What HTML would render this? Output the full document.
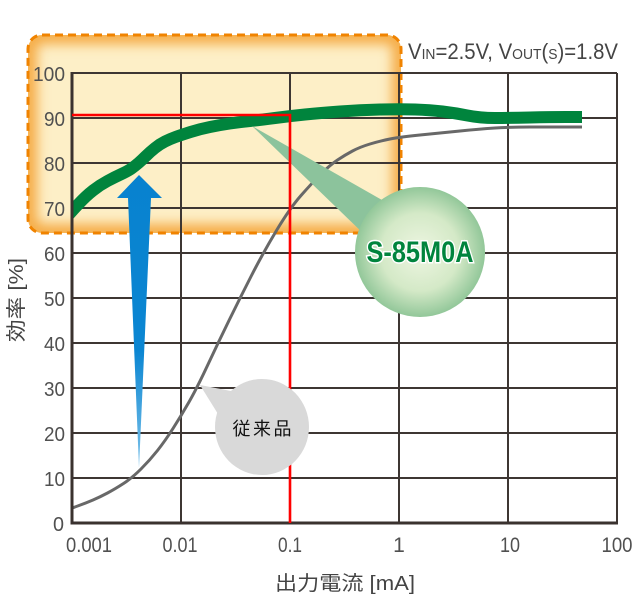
<!DOCTYPE html>
<html><head><meta charset="utf-8"><style>
html,body{margin:0;padding:0;background:#fff;width:643px;height:609px;overflow:hidden}
svg{display:block}
text{font-family:"Liberation Sans","Noto Sans CJK JP",sans-serif}
</style></head><body>
<svg width="643" height="609" viewBox="0 0 643 609" xmlns="http://www.w3.org/2000/svg">
<defs>
<clipPath id="bc"><rect x="28" y="35" width="373" height="198" rx="14" ry="14"/></clipPath>
<clipPath id="pc"><rect x="72" y="60" width="560" height="470"/></clipPath>
<filter id="bl" x="-20%" y="-20%" width="140%" height="140%"><feGaussianBlur stdDeviation="6"/></filter>
<linearGradient id="ag" x1="0" y1="0" x2="0" y2="1">
<stop offset="0" stop-color="#0882cf"/><stop offset="0.6" stop-color="#0b86d2"/><stop offset="1" stop-color="#7cc2ea"/>
</linearGradient>
<radialGradient id="cg" cx="0.5" cy="0.5" r="0.5">
<stop offset="0" stop-color="#eef6e2"/><stop offset="0.6" stop-color="#d4e9c7"/><stop offset="1" stop-color="#92c799"/>
</radialGradient>
</defs>

<!-- orange highlight box -->
<rect x="28" y="35" width="373" height="198" rx="14" ry="14" fill="#fdefc7"/>
<g clip-path="url(#bc)">
<rect x="28" y="35" width="373" height="198" rx="14" ry="14" fill="none" stroke="#f5ab45" stroke-width="18" filter="url(#bl)"/>
</g>
<rect x="28" y="35" width="373" height="198" rx="14" ry="14" fill="none" stroke="#f08300" stroke-width="3" stroke-dasharray="8 5"/>

<!-- grid -->
<g stroke="#3d3633" stroke-width="2">
<line x1="72" y1="118" x2="617" y2="118"/>
<line x1="72" y1="163" x2="617" y2="163"/>
<line x1="72" y1="208" x2="617" y2="208"/>
<line x1="72" y1="253" x2="617" y2="253"/>
<line x1="72" y1="298" x2="617" y2="298"/>
<line x1="72" y1="343" x2="617" y2="343"/>
<line x1="72" y1="388" x2="617" y2="388"/>
<line x1="72" y1="433" x2="617" y2="433"/>
<line x1="72" y1="478" x2="617" y2="478"/>
<line x1="181" y1="73" x2="181" y2="523"/>
<line x1="290" y1="73" x2="290" y2="523"/>
<line x1="399" y1="73" x2="399" y2="523"/>
<line x1="508" y1="73" x2="508" y2="523"/>
<line x1="72" y1="73" x2="617" y2="73"/>
<line x1="617" y1="73" x2="617" y2="523"/>
</g>

<!-- blue arrow -->
<polygon points="139,175 162,198 151,198 139,468 128,198 117,198" fill="url(#ag)"/>

<g clip-path="url(#pc)">
<!-- grey conventional curve -->
<polyline id="grey" fill="none" stroke="#686868" stroke-width="3" stroke-linejoin="round" points="68,510 72,508 86,503 100,497 115,489 132,478 150,460 165,441 181,416 197,388 218,343 240,298 263,253 290,208 312,183 330,165 345,155 360,147 380,141 400,137 440,133 480,129 510,127 550,127 582,127"/>
<!-- green S-85M0A curve -->
<polyline id="green" fill="none" stroke="#00843d" stroke-width="12" stroke-linejoin="round" points="66,218 72,211 86,196 100,185 115,177 128,171 135,166 142,160 150,152 160,144 170,139 181,135 200,129 220,125 240,122 260,120 290,116 320,113 360,110 400,109 430,110 455,113 480,118 510,118 550,117 582,117"/>
</g>

<g stroke="#3a322f" stroke-width="3">
<line x1="72" y1="72" x2="72" y2="524.5"/>
<line x1="70.5" y1="523" x2="618" y2="523"/>
</g>

<!-- light green pointer -->
<polygon points="252,126 382,200 368,238" fill="#8cc39c"/>

<!-- red reference lines -->
<polyline points="72,115 290,115 290,523" stroke="#ff0000" stroke-width="2.6" fill="none"/>

<!-- S-85M0A circle -->
<circle cx="420" cy="252" r="65" fill="url(#cg)"/>
<text x="420" y="262" text-anchor="middle" font-size="30" font-weight="bold" fill="#00843d" stroke="#ffffff" stroke-width="3" paint-order="stroke" textLength="107" lengthAdjust="spacingAndGlyphs">S-85M0A</text>

<!-- grey bubble -->
<polygon points="200,385 236,392 218,414" fill="#d9d9d9"/>
<ellipse cx="262" cy="427" rx="47" ry="48" fill="#d9d9d9"/>
<text x="262" y="435" text-anchor="middle" font-size="18" fill="#111" textLength="59" lengthAdjust="spacing" style="font-family:'Noto Sans CJK JP',sans-serif">従来品</text>

<!-- title -->
<text x="408" y="59" font-size="22" fill="#444" textLength="210" lengthAdjust="spacingAndGlyphs">V<tspan font-size="15">IN</tspan>=2.5V, V<tspan font-size="15">OUT</tspan>(<tspan font-size="15">S</tspan>)=1.8V</text>

<!-- y labels -->
<g font-size="20" fill="#505050" text-anchor="end">
<text x="65" y="81" textLength="32" lengthAdjust="spacingAndGlyphs">100</text>
<text x="65" y="126" textLength="21" lengthAdjust="spacingAndGlyphs">90</text>
<text x="65" y="171" textLength="21" lengthAdjust="spacingAndGlyphs">80</text>
<text x="65" y="216" textLength="21" lengthAdjust="spacingAndGlyphs">70</text>
<text x="65" y="261" textLength="21" lengthAdjust="spacingAndGlyphs">60</text>
<text x="65" y="306" textLength="21" lengthAdjust="spacingAndGlyphs">50</text>
<text x="65" y="351" textLength="21" lengthAdjust="spacingAndGlyphs">40</text>
<text x="65" y="396" textLength="21" lengthAdjust="spacingAndGlyphs">30</text>
<text x="65" y="441" textLength="21" lengthAdjust="spacingAndGlyphs">20</text>
<text x="65" y="486" textLength="21" lengthAdjust="spacingAndGlyphs">10</text>
<text x="64" y="531" textLength="11" lengthAdjust="spacingAndGlyphs">0</text>
</g>

<!-- x labels -->
<g font-size="21" fill="#505050" text-anchor="middle">
<text x="89" y="552" textLength="46" lengthAdjust="spacingAndGlyphs">0.001</text>
<text x="180" y="552" textLength="35" lengthAdjust="spacingAndGlyphs">0.01</text>
<text x="290" y="552" textLength="24" lengthAdjust="spacingAndGlyphs">0.1</text>
<text x="399" y="552">1</text>
<text x="510" y="552" textLength="20" lengthAdjust="spacingAndGlyphs">10</text>
<text x="617" y="552" textLength="31" lengthAdjust="spacingAndGlyphs">100</text>
</g>

<!-- axis titles -->
<text x="345" y="590" text-anchor="middle" font-size="20" fill="#444" textLength="140" lengthAdjust="spacingAndGlyphs">出力電流 [mA]</text>
<text transform="translate(23,300) rotate(-90)" x="0" y="0" text-anchor="middle" font-size="20" fill="#444" textLength="84" lengthAdjust="spacingAndGlyphs">効率 [%]</text>
</svg>
<script>
(function(){
  var ns="http://www.w3.org/2000/svg";
  ["grey","green"].forEach(function(id){
    var pl=document.getElementById(id);
    if(!pl) return;
    var nums=pl.getAttribute("points").trim().split(/[\s,]+/).map(Number);
    var p=[];
    for(var i=0;i<nums.length;i+=2) p.push([nums[i],nums[i+1]]);
    var d="M"+p[0][0]+","+p[0][1];
    var mx=(p[0][0]+p[1][0])/2,my=(p[0][1]+p[1][1])/2;
    d+=" L"+mx+","+my;
    for(var k=1;k<p.length-1;k++){
      var nx=(p[k][0]+p[k+1][0])/2,ny=(p[k][1]+p[k+1][1])/2;
      d+=" Q"+p[k][0]+","+p[k][1]+" "+nx+","+ny;
    }
    d+=" L"+p[p.length-1][0]+","+p[p.length-1][1];
    var path=document.createElementNS(ns,"path");
    path.setAttribute("d",d);
    ["fill","stroke","stroke-width","stroke-linejoin"].forEach(function(a){path.setAttribute(a,pl.getAttribute(a));});
    pl.parentNode.insertBefore(path,pl);
    pl.parentNode.removeChild(pl);
  });
})();
</script>
</body></html>
